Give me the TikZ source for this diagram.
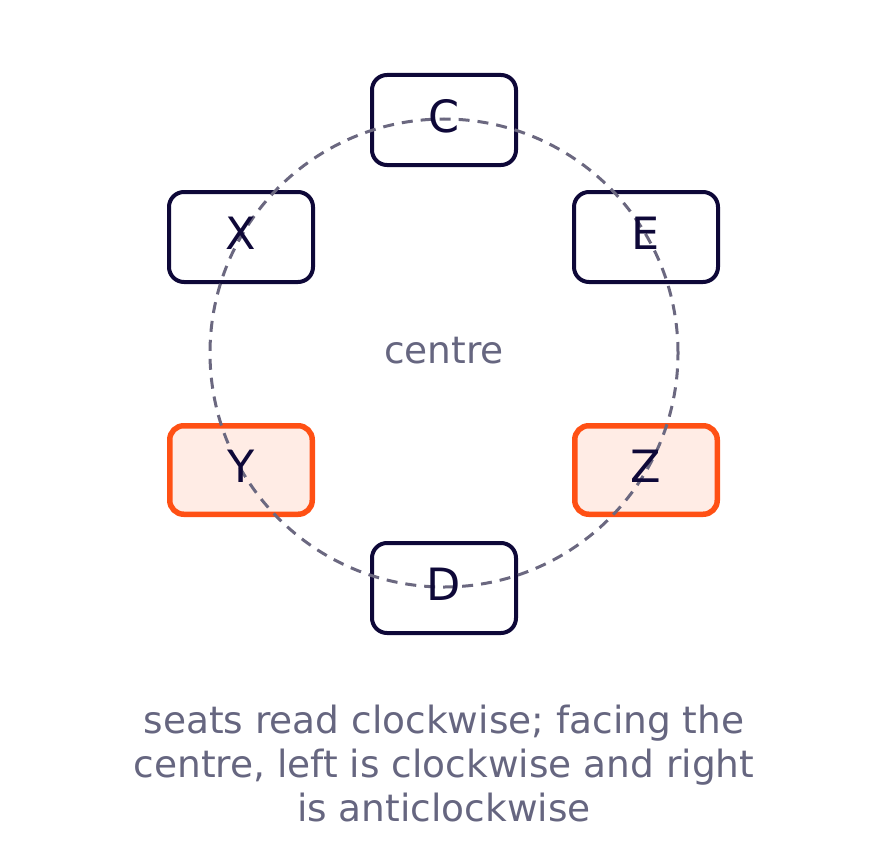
\documentclass[tikz,border=0pt]{standalone}
\usepackage{fontspec}
\setmainfont{DejaVu Sans}
\definecolor{navy}{HTML}{0E0838}
\definecolor{ringgrey}{HTML}{6B6880}
\definecolor{capgrey}{HTML}{666680}
\definecolor{hot}{HTML}{FF5014}
\definecolor{hotfill}{HTML}{FFECE5}
\tikzset{
  seatbox/.style={draw=navy, line width=4pt, rounded corners=15pt, minimum width=144pt, minimum height=90pt, fill=white, inner sep=0pt},
  hotbox/.style={draw=hot, fill=hotfill, line width=5.5pt, rounded corners=14pt, minimum width=142.5pt, minimum height=88.5pt, inner sep=0pt},
  seatlabel/.style={text=navy, font=\fontsize{44.5}{52}\selectfont, inner sep=0pt},
  ring/.style={draw=ringgrey, line width=3pt, dash pattern=on 11pt off 8pt},
  note/.style={text=capgrey, font=\fontsize{37.5}{44}\selectfont, inner sep=0pt},
  caption/.style={text=capgrey, font=\fontsize{37.5}{44}\selectfont, align=center, inner sep=0pt}
}
\begin{document}
\begin{tikzpicture}[x=1pt,y=-1pt]
\useasboundingbox (0,0) rectangle (888,864);
\node[seatbox] (boxC) at (444,120) {};
\node[seatbox] (boxX) at (241,237) {};
\node[seatbox] (boxE) at (646,237) {};
\node[hotbox] (boxY) at (241,470) {};
\node[hotbox] (boxZ) at (646,470) {};
\node[seatbox] (boxD) at (444,588) {};
\coordinate (mid) at (444,353);
\draw[ring] (mid) circle[radius=234pt];
\node[seatlabel] (C) at ([yshift=4pt]boxC.center) {C};
\node[seatlabel] (X) at ([yshift=4pt]boxX.center) {X};
\node[seatlabel] (E) at ([yshift=4pt]boxE.center) {E};
\node[seatlabel] (Y) at ([yshift=4pt]boxY.center) {Y};
\node[seatlabel] (Z) at ([yshift=4pt]boxZ.center) {Z};
\node[seatlabel] (D) at ([yshift=4pt]boxD.center) {D};
\node[note] (centre) at (444,351) {centre};
\node[caption] (cap) at (444,764) {seats read clockwise; facing the\\centre, left is clockwise and right\\is anticlockwise};
\end{tikzpicture}
\end{document}
